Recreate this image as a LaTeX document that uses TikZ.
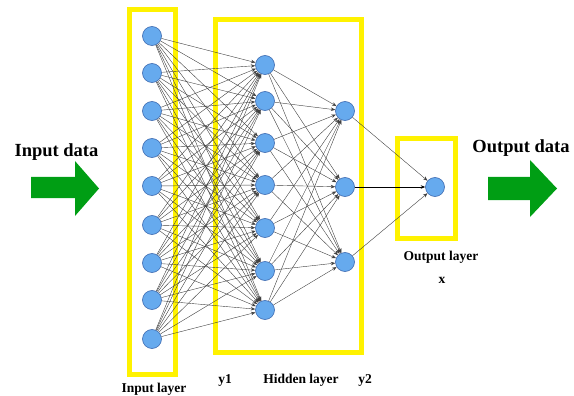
\documentclass[tikz,border=0pt]{standalone}
\usepackage{fontspec}
\setmainfont{Liberation Serif}
\usepackage[x11names]{xcolor}
\usetikzlibrary{arrows.meta,positioning}
\definecolor{NeuronBlue}{RGB}{102,170,238}
\definecolor{NeuronEdge}{RGB}{60,105,175}
\definecolor{ArrowGreen}{RGB}{0,158,20}
\tikzset{
  neuron/.style={circle,draw=NeuronEdge,fill=NeuronBlue,minimum size=19pt,inner sep=0pt,line width=0.6pt},
  layerbox/.style={draw=yellow,line width=5pt},
  link/.style={-{Stealth[length=4.5pt,width=3.5pt]},draw=black!75,line width=0.4pt},
  bigtext/.style={font=\bfseries\fontsize{18.5}{20}\selectfont,inner sep=0pt,anchor=base},
  smalltext/.style={font=\bfseries\fontsize{13.5}{15}\selectfont,inner sep=0pt,anchor=base}
}

\begin{document}
\begin{tikzpicture}[x=1pt,y=-1pt]
       \useasboundingbox (0,0) rectangle (574,396);
       \clip (0,0) rectangle (574,396);
       % layer boxes
       \draw[layerbox] (129,10) rectangle (175,374);
       \draw[layerbox] (215,20) rectangle (361,352);
       \draw[layerbox] (397,139) rectangle (455,238);
       % neurons
       \foreach \y [count=\i] in {36,73,111,148,186,225,263,300,339}
         \node[neuron] (in\i) at (152,\y) {};
       \foreach \y [count=\i] in {65,101,143,185,228,271,310}
         \node[neuron] (ha\i) at (265,\y) {};
       \foreach \y [count=\i] in {111,187,262}
         \node[neuron] (hb\i) at (345,\y) {};
       \node[neuron] (out) at (435,187) {};
       % connections
       \foreach \i in {1,...,9}
         \foreach \j in {1,...,7}
           \draw[link] (in\i) -- (ha\j);
       \foreach \i in {1,...,7}
         \foreach \j in {1,2,3}
           \draw[link] (ha\i) -- (hb\j);
       \draw[link] (hb1) -- (out);
       \draw[link,draw=black,line width=0.6pt] (hb2) -- (out);
       \draw[link] (hb3) -- (out);
       % data arrows
       \fill[ArrowGreen] (31,177) -- (75,177) -- (75,161) -- (99,188.5) -- (75,216) -- (75,198) -- (31,198) -- cycle;
       \fill[ArrowGreen] (488,177) -- (530,177) -- (530,160) -- (557,188.5) -- (530,217) -- (530,200) -- (488,200) -- cycle;
       % labels
       \node[bigtext] (indata) at (56.5,157) {Input data};
       \node[bigtext] (outdata) at (521,153) {Output data};
       \node[smalltext] (outlabel) at (441,260) {Output layer};
       \node[smalltext] (xlabel) at (442,283) {x};
       \node[smalltext] (yonelabel) at (225,383) {y1};
       \node[smalltext] (hidlabel) at (301,383) {Hidden layer};
       \node[smalltext] (ytwolabel) at (365,383) {y2};
       \node[smalltext] (inlabel) at (154,392) {Input layer};
\end{tikzpicture}
\end{document}
